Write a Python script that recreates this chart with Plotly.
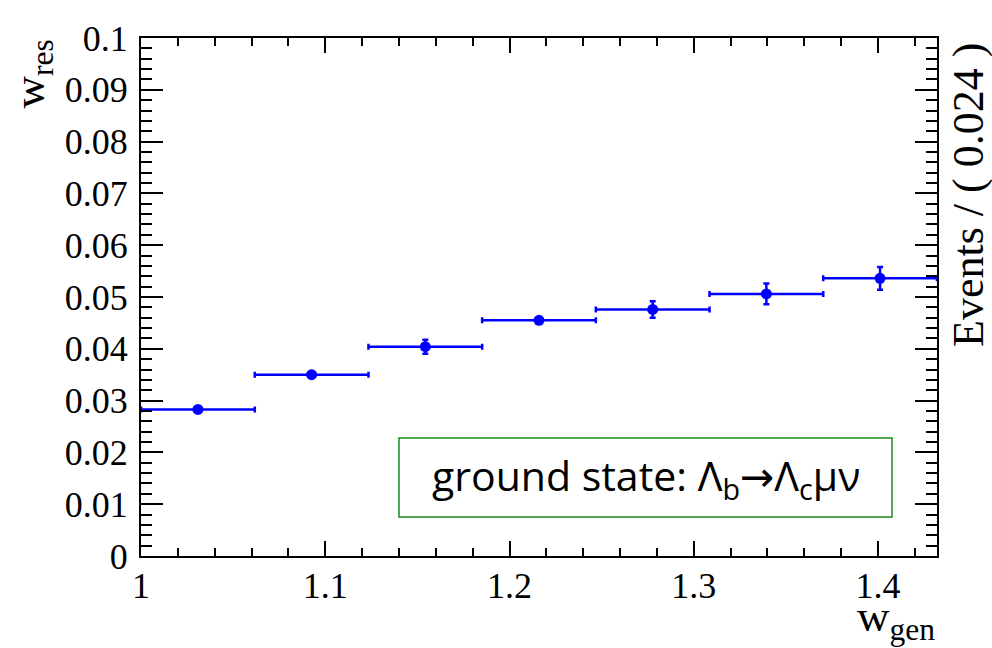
import plotly.graph_objects as go

# data
w_gen_centers = [1.0309, 1.0926, 1.1543, 1.2160, 1.2777, 1.3394, 1.4011]
bin_half_width = [0.03086] * 7
w_res_values = [0.0283, 0.0350, 0.0404, 0.0455, 0.0476, 0.0506, 0.0536]
w_res_errors = [0.0004, 0.0003, 0.00135, 0.0004, 0.0016, 0.0020, 0.0022]
x_range = [1.0, 1.432]
y_range = [0.0, 0.1]
x_tickvals = [1.0, 1.1, 1.2, 1.3, 1.4]
x_ticktext = ["1", "1.1", "1.2", "1.3", "1.4"]
y_tickvals = [0.0, 0.01, 0.02, 0.03, 0.04, 0.05, 0.06, 0.07, 0.08, 0.09, 0.1]
y_ticktext = ["0", "0.01", "0.02", "0.03", "0.04", "0.05", "0.06", "0.07", "0.08", "0.09", "0.1"]
label_text = ("ground state: Λ<sub>b</sub>"
              "<span style='font-family:DejaVu Sans'>→</span>Λ<sub>c</sub>μν")

BLUE = "#0000ff"
SERIF = "Liberation Serif, Times New Roman, serif"

fig = go.Figure()
fig.add_trace(go.Scatter(
    x=w_gen_centers, y=w_res_values, mode="markers",
    marker=dict(color=BLUE, size=11, symbol="circle"),
    error_x=dict(type="data", array=bin_half_width, color=BLUE, thickness=2.5, width=3),
    error_y=dict(type="data", array=w_res_errors, color=BLUE, thickness=2.5, width=3),
    showlegend=False, cliponaxis=False, hoverinfo="skip",
))

L, R, T, B = 141, 55, 38, 92
fig.update_layout(
    width=992, height=648,
    margin=dict(l=L, r=R, t=T, b=B, pad=0),
    paper_bgcolor="white", plot_bgcolor="white",
    font=dict(family=SERIF, color="black", size=36),
    xaxis=dict(
        range=x_range, tickmode="array", tickvals=x_tickvals, ticktext=x_ticktext,
        ticks="inside", ticklen=15, tickwidth=2, tickcolor="black",
        minor=dict(dtick=0.02, tick0=1.0, ticks="inside", ticklen=8, tickwidth=2, tickcolor="black"),
        showline=True, linewidth=2, linecolor="black", mirror="allticks",
        showgrid=False, zeroline=False, automargin=False,
        tickfont=dict(family=SERIF, size=36),
        ticklabelstandoff=-3,
    ),
    yaxis=dict(
        range=y_range, tickmode="array", tickvals=y_tickvals, ticktext=y_ticktext,
        ticks="inside", ticklen=22, tickwidth=2, tickcolor="black",
        minor=dict(dtick=0.002, tick0=0, ticks="inside", ticklen=11, tickwidth=2, tickcolor="black"),
        showline=True, linewidth=2, linecolor="black", mirror="allticks",
        showgrid=False, zeroline=False, automargin=False,
        tickfont=dict(family=SERIF, size=36),
        ticklabelstandoff=4,
    ),
)

pw = 992 - L - R
ph = 648 - T - B

# axis titles
fig.add_annotation(
    text="w<sub>gen</sub>", xref="paper", yref="paper",
    x=1.0, y=-(619 - 556) / ph, xanchor="right", yanchor="middle",
    showarrow=False, font=dict(family=SERIF, size=45),
)
fig.add_annotation(
    text="w<sub>res</sub>", xref="paper", yref="paper",
    x=(31 - L) / pw, y=1.0, xanchor="center", yanchor="top", textangle=-90,
    showarrow=False, font=dict(family=SERIF, size=45),
)
fig.add_annotation(
    text="Events / ( 0.024 )", xref="paper", yref="paper",
    x=(968 - L) / pw, y=1 - (41 - T) / ph, xanchor="center", yanchor="top", textangle=-90,
    showarrow=False, font=dict(family=SERIF, size=44),
)

# label box
x0p, x1p = (399 - L) / pw, (892 - L) / pw
y0p, y1p = (556 - 517) / ph, (556 - 438) / ph
fig.add_shape(type="rect", xref="paper", yref="paper",
              x0=x0p, x1=x1p, y0=y0p, y1=y1p,
              line=dict(color="#1a8a1a", width=1.5), fillcolor="white", layer="below")
fig.add_annotation(
    text=label_text, xref="paper", yref="paper",
    x=(x0p + x1p) / 2, y=(y0p + y1p) / 2, xanchor="center", yanchor="middle",
    showarrow=False, font=dict(family="Open Sans, sans-serif", size=41, color="black"),
)

fig.write_html("out.html", config={"displayModeBar": False},
               post_script="document.body.style.margin='0';")
